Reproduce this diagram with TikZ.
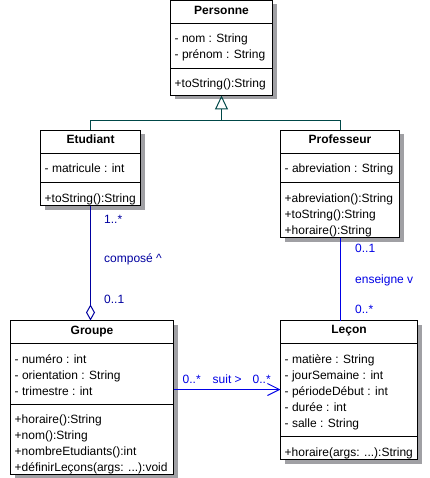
\documentclass[tikz,border=0pt]{standalone}
\usepackage{fontspec}
\setmainfont{Liberation Sans}
\usetikzlibrary{arrows.meta,shadows}
\definecolor{shadowgray}{RGB}{160,160,164}
\definecolor{inhcol}{RGB}{0,72,72}
\definecolor{compcol}{RGB}{0,0,160}
\definecolor{assoccol}{RGB}{0,0,230}
\tikzset{
  cls/.style={draw=black, line width=1pt, fill=white, inner sep=0pt, outer sep=0pt,
    anchor=north west,
    drop shadow={shadow xshift=4pt, shadow yshift=-4pt, fill=shadowgray, opacity=1}},
  sepl/.style={draw=black, line width=1pt},
  txt/.style={anchor=base west, inner sep=0pt, font=\fontsize{12}{14}\selectfont},
  ttl/.style={anchor=base, inner sep=0pt, font=\fontsize{12}{14}\selectfont\bfseries},
  inherit/.style={draw=inhcol, line width=1pt},
  compose/.style={draw=compcol, line width=1pt},
  assoc/.style={draw=assoccol, line width=1pt},
  clab/.style={anchor=base west, inner sep=0pt, text=compcol, font=\fontsize{12}{14}\selectfont},
  alab/.style={anchor=base west, inner sep=0pt, text=assoccol, font=\fontsize{12}{14}\selectfont},
}
\newcommand\mysep[2]{\draw[sepl] (#1.west |- 0,#2) -- (#1.east |- 0,#2);}
\begin{document}
\begin{tikzpicture}[x=1pt,y=-1pt]
\useasboundingbox[fill=white] (0,0) rectangle (429,478);

% Personne
\node[cls, minimum width=102pt, minimum height=95pt] (personne) at (170.5,0.5) {};
\mysep{personne}{23.5}
\mysep{personne}{68.5}
\node[ttl] (personneT) at (221.5,15) {Personne};
\node[txt] (personneA1) at (174.5,43) {- nom : String};
\node[txt] (personneA2) at (174.5,59) {- prénom : String};
\node[txt] (personneM1) at (174.5,88) {+toString():String};

% Etudiant
\node[cls, minimum width=100pt, minimum height=75pt] (etudiant) at (40.5,130.5) {};
\mysep{etudiant}{153.5}
\mysep{etudiant}{182.5}
\node[ttl] (etudiantT) at (90.5,144) {Etudiant};
\node[txt] (etudiantA1) at (44.5,173) {- matricule : int};
\node[txt] (etudiantM1) at (44.5,202) {+toString():String};

% Professeur
\node[cls, minimum width=119pt, minimum height=107pt] (professeur) at (280.5,130.5) {};
\mysep{professeur}{153.5}
\mysep{professeur}{182.5}
\node[ttl] (professeurT) at (340,144) {Professeur};
\node[txt] (professeurA1) at (284.5,173) {- abreviation : String};
\node[txt] (professeurM1) at (284.5,202) {+abreviation():String};
\node[txt] (professeurM2) at (284.5,218) {+toString():String};
\node[txt] (professeurM3) at (284.5,234) {+horaire():String};

% Groupe
\node[cls, minimum width=163pt, minimum height=154pt] (groupe) at (10.5,320.5) {};
\mysep{groupe}{343.5}
\mysep{groupe}{404.5}
\node[ttl] (groupeT) at (92,334) {Groupe};
\node[txt] (groupeA1) at (14.5,363) {- numéro : int};
\node[txt] (groupeA2) at (14.5,379) {- orientation : String};
\node[txt] (groupeA3) at (14.5,395) {- trimestre : int};
\node[txt] (groupeM1) at (14.5,423.5) {+horaire():String};
\node[txt] (groupeM2) at (14.5,439.5) {+nom():String};
\node[txt] (groupeM3) at (14.5,455.5) {+nombreEtudiants():int};
\node[txt] (groupeM4) at (14.5,471.5) {+définirLeçons(args: ...):void};

% Lecon
\node[cls, minimum width=137pt, minimum height=139pt] (lecon) at (280.5,320.5) {};
\mysep{lecon}{343.5}
\mysep{lecon}{436.5}
\node[ttl] (leconT) at (349,333.5) {Leçon};
\node[txt] (leconA1) at (284.5,363) {- matière : String};
\node[txt] (leconA2) at (284.5,379) {- jourSemaine : int};
\node[txt] (leconA3) at (284.5,395) {- périodeDébut : int};
\node[txt] (leconA4) at (284.5,411) {- durée : int};
\node[txt] (leconA5) at (284.5,427) {- salle : String};
\node[txt] (leconM1) at (284.5,456) {+horaire(args: ...):String};

% Inheritance
\coordinate (jn) at (221.5,120.5);
\draw[inherit] (etudiant.north) |- (jn) -| (professeur.north);
\draw[inherit, -{Triangle[open, length=14pt, width=13pt]}] (jn) -- (personne.south);

% Composition
\draw[compose, {Diamond[open, length=16pt, width=9pt]}-] (etudiant.south |- groupe.north) -- (etudiant.south);
\node[clab] (c1) at (104,223) {1..*};
\node[clab] (c2) at (104,262.5) {composé \^{}};
\node[clab] (c3) at (104,303) {0..1};

% Enseigne
\draw[assoc] (professeur.south) -- (professeur.south |- lecon.north);
\node[alab] (e1) at (355,252.5) {0..1};
\node[alab] (e2) at (355,283) {enseigne v};
\node[alab] (e3) at (355,313) {0..*};

% Suit
\coordinate (sy) at (0,389.5);
\draw[assoc, -{Straight Barb[length=12pt, width=12pt]}] (groupe.east |- sy) -- (lecon.west |- sy);
\node[alab] (s1) at (182.5,383) {0..*};
\node[alab] (s2) at (212.5,383) {suit >};
\node[alab] (s3) at (252.5,383) {0..*};
\end{tikzpicture}
\end{document}
